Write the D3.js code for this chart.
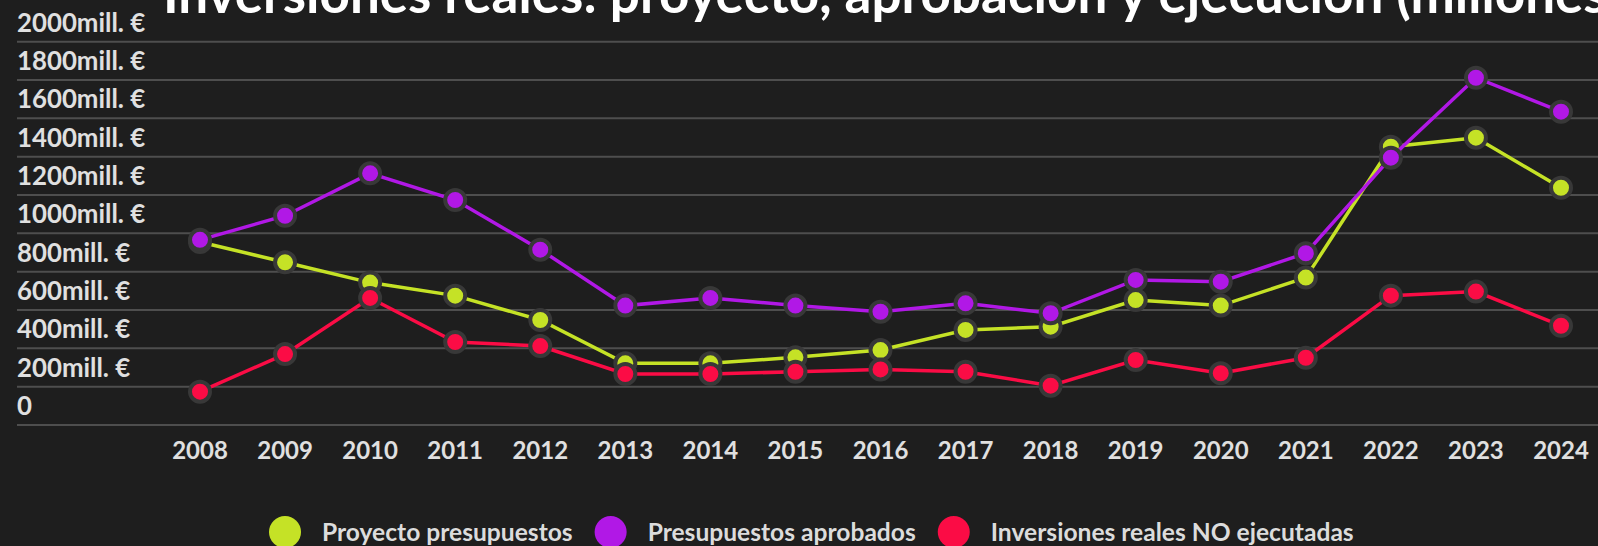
<!DOCTYPE html>
<html>
<head>
<meta charset="utf-8">
<script src="https://cdn.jsdelivr.net/npm/d3@7"></script>
<style>
  html, body { margin: 0; padding: 0; background: #1e1e1e; overflow: hidden; }
  svg { display: block; font-family: Lato, "Open Sans", sans-serif; font-weight: bold; }
</style>
</head>
<body>
<div id="chart"></div>
<script>
/** DATA */
const years = ["2008", "2009", "2010", "2011", "2012", "2013", "2014", "2015", "2016",
  "2017", "2018", "2019", "2020", "2021", "2022", "2023", "2024"];
const proyecto = [955, 849, 743, 675, 548, 322, 322, 353, 391, 496, 513, 652, 623, 769, 1452, 1499, 1238];
const aprobados = [966, 1092, 1313, 1174, 915, 623, 663, 623, 591, 635, 583, 757, 748, 896, 1395, 1812, 1635];
const noEjecutadas = [174, 370, 663, 433, 412, 266, 266, 278, 290, 278, 205, 339, 270, 351, 675, 696, 518];
const yTicks = [0, 200, 400, 600, 800, 1000, 1200, 1400, 1600, 1800, 2000];
const title = "Inversiones reales: proyecto, aprobación y ejecución (millones de euros)";

const series = [
  { name: "Proyecto presupuestos", values: proyecto, color: "#c5e226" },
  { name: "Presupuestos aprobados", values: aprobados, color: "#b118e6" },
  { name: "Inversiones reales NO ejecutadas", values: noEjecutadas, color: "#fb0c45" }
];

/** CONSTANTS */
const width = 1598;
const height = 546;

const xScale = d3.scalePoint()
  .domain(years)
  .range([200, 1561]);

const yScale = d3.scaleLinear()
  .domain([0, 2000])
  .range([425, 41.7]);

const svg = d3.select("#chart")
  .append("svg")
  .attr("width", width)
  .attr("height", height);

svg.append("rect")
  .attr("width", width)
  .attr("height", height)
  .attr("fill", "#1e1e1e");

// title, cut by the top (and right) of the picture as in the original
svg.append("text")
  .attr("x", 163)
  .attr("y", 13)
  .attr("fill", "#ffffff")
  .attr("font-size", 53)
  .text(title);

// grid + y labels
svg.selectAll("line.grid")
  .data(yTicks)
  .join("line")
  .attr("class", "grid")
  .attr("x1", 17)
  .attr("x2", width)
  .attr("y1", d => yScale(d))
  .attr("y2", d => yScale(d))
  .attr("stroke", "#4e4e4e")
  .attr("stroke-width", 2);

svg.selectAll("text.ylabel")
  .data(yTicks)
  .join("text")
  .attr("class", "ylabel")
  .attr("x", 17)
  .attr("y", d => yScale(d) - 10)
  .attr("fill", "#e0e0e0")
  .attr("font-size", 25.8)
  .text(d => d === 0 ? "0" : d + "mill. €");

// x labels
svg.selectAll("text.xlabel")
  .data(years)
  .join("text")
  .attr("class", "xlabel")
  .attr("x", d => xScale(d))
  .attr("y", 459)
  .attr("text-anchor", "middle")
  .attr("fill", "#e0e0e0")
  .attr("font-size", 24)
  .text(d => d);

// lines + markers
const line = d3.line()
  .x((d, i) => xScale(years[i]))
  .y(d => yScale(d));

series.forEach(s => {
  const g = svg.append("g");
  g.append("path")
    .attr("d", line(s.values))
    .attr("fill", "none")
    .attr("stroke", s.color)
    .attr("stroke-width", 3.5);
  g.selectAll("circle")
    .data(s.values)
    .join("circle")
    .attr("cx", (d, i) => xScale(years[i]))
    .attr("cy", d => yScale(d))
    .attr("r", 10)
    .attr("fill", s.color)
    .attr("stroke", "#383838")
    .attr("stroke-width", 4);
});

// legend
let lx = 285;
series.forEach(s => {
  svg.append("circle")
    .attr("cx", lx)
    .attr("cy", 532)
    .attr("r", 16)
    .attr("fill", s.color);
  const t = svg.append("text")
    .attr("x", lx + 37)
    .attr("y", 541)
    .attr("fill", "#dcdcdc")
    .attr("font-size", 24.6)
    .text(s.name);
  lx = lx + 37 + t.node().getComputedTextLength() + 38;
});
</script>
</body>
</html>
